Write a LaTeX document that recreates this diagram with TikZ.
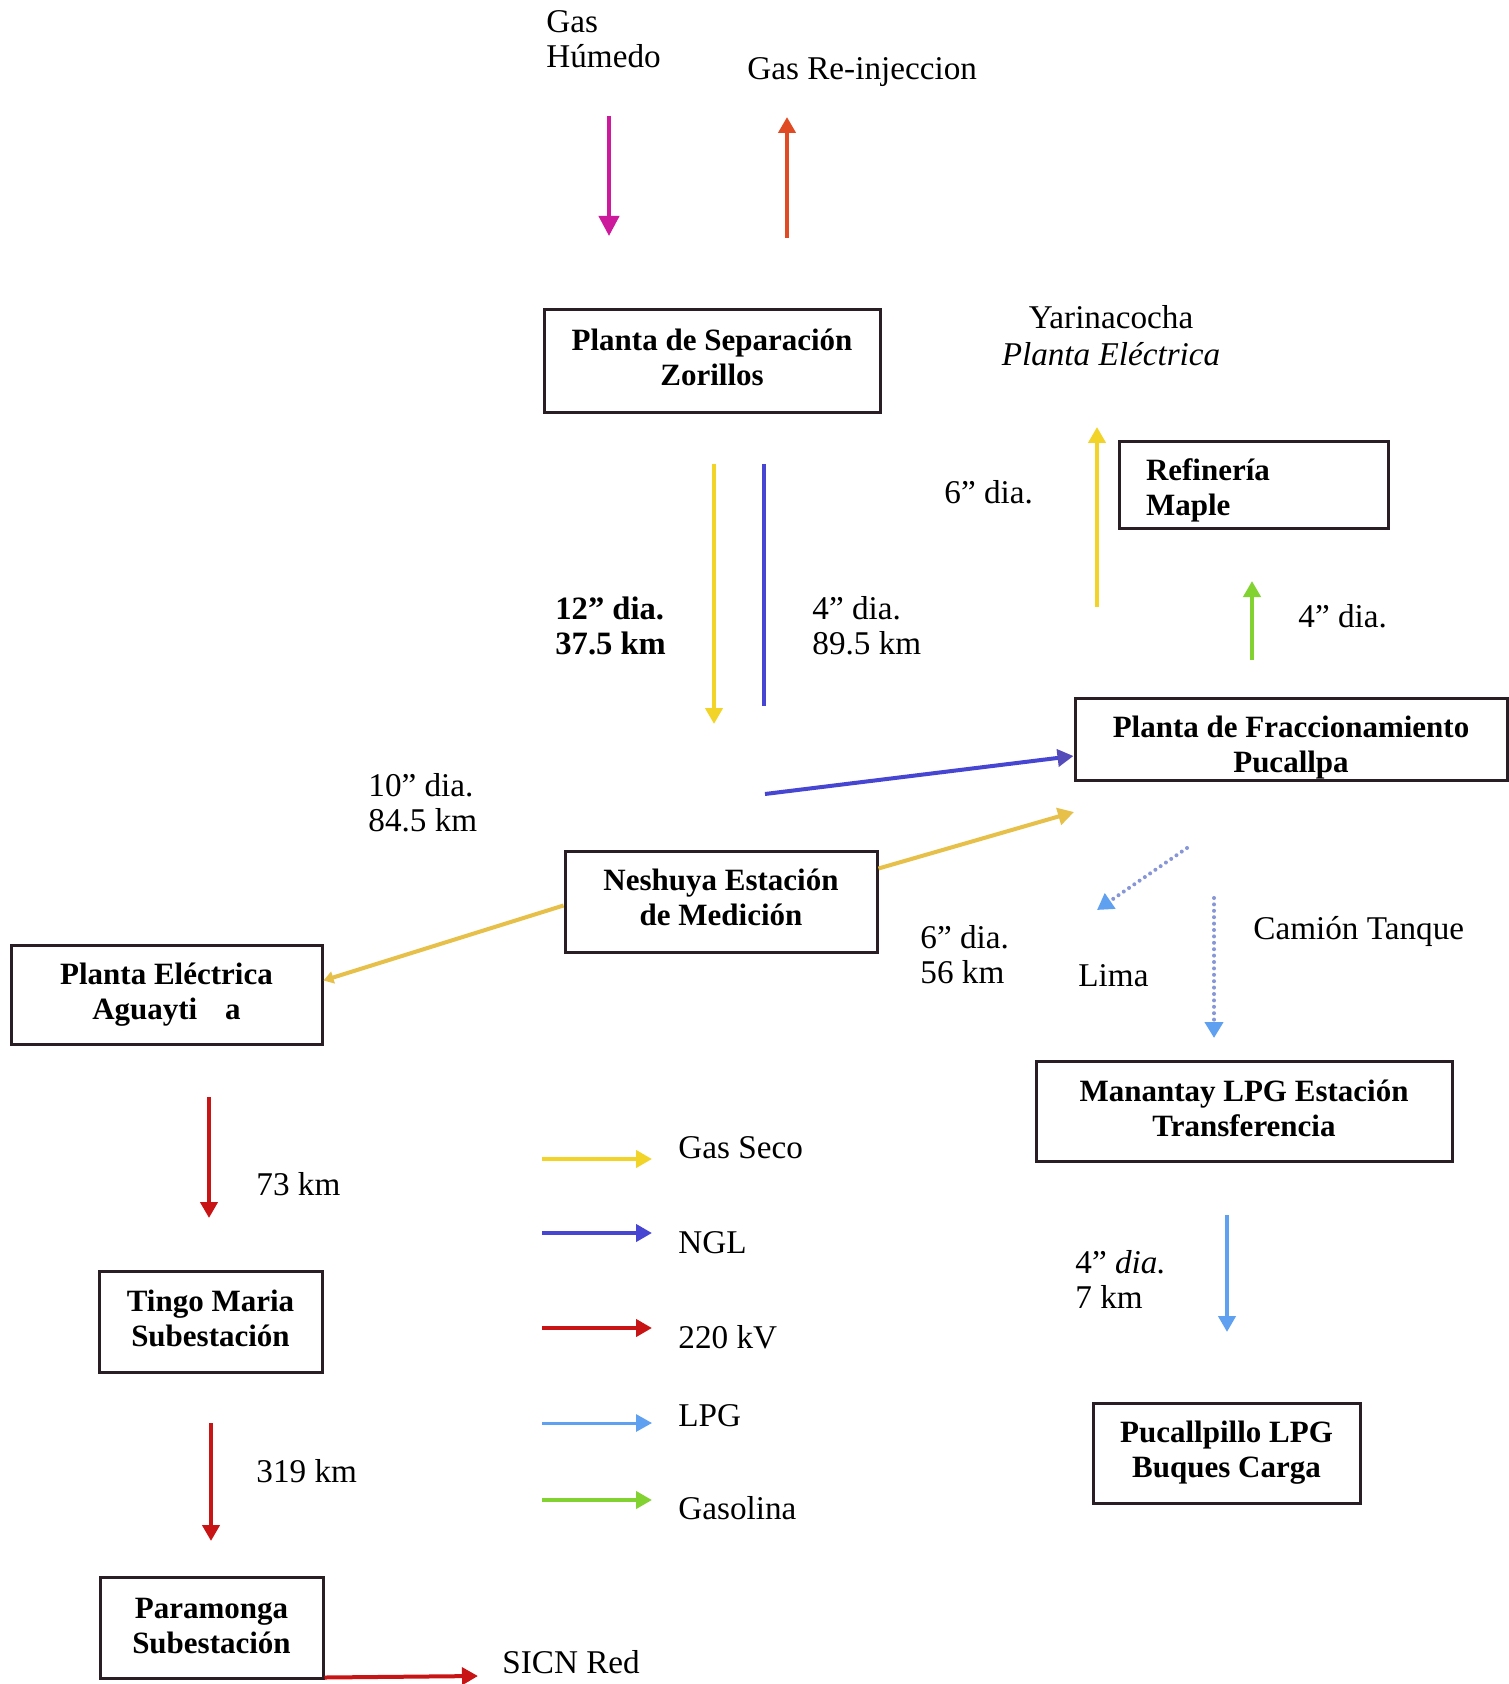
\documentclass[tikz,border=0pt]{standalone}
\usepackage{fontspec}
\setmainfont{Liberation Serif}
\usetikzlibrary{arrows.meta,calc}
\definecolor{cMag}{RGB}{205,25,155}
\definecolor{cOra}{RGB}{225,75,35}
\definecolor{cYel}{RGB}{242,212,40}
\definecolor{cOch}{RGB}{230,192,72}
\definecolor{cNgl}{RGB}{70,70,210}
\definecolor{cNglD}{RGB}{85,75,185}
\definecolor{cRed}{RGB}{200,20,20}
\definecolor{cLpg}{RGB}{95,160,240}
\definecolor{cGrn}{RGB}{130,210,50}
\definecolor{cDot}{RGB}{135,150,215}
\definecolor{cBox}{RGB}{40,30,35}
% vertical fine-tuning of box text
\newcommand{\txtup}[1]{\rule[-#1]{0pt}{0pt}}
\newcommand{\txtdown}[1]{\rule{0pt}{#1}}
\begin{document}
\begin{tikzpicture}[x=0.5pt,y=-0.5pt,
  box/.style={draw=cBox, line width=1.5pt, fill=white, align=center,
    font=\fontsize{15.5}{17.5}\selectfont\bfseries, inner sep=0pt},
  lbl/.style={font=\fontsize{16.6}{17.75}\selectfont, inner sep=0pt, anchor=base west},
  lblm/.style={font=\fontsize{16.6}{17.75}\selectfont, inner sep=0pt, align=left, anchor=north west},
  flow/.style={line width=2pt, -{Triangle[length=8pt,width=8.5pt]}},
  pipe/.style={line width=2pt},
  dotline/.style={line width=2pt, line cap=round, dash pattern=on 0pt off 3.2pt},
]
\useasboundingbox (0,0) rectangle (1508,1684);
\fill[white] (0,0) rectangle (1508,1684);

% ---------- boxes ----------
\node[box, minimum width=168pt, minimum height=51.5pt] (zor) at (712,361.5)
  {Planta de Separación\\Zorillos\txtup{4.3pt}};
\node[box, minimum width=134.5pt, minimum height=43pt, text width=107.5pt, align=left, inner xsep=13.5pt] (ref) at (1253.5,485)
  {\txtdown{16pt}Refinería\\Maple};
\node[box, minimum width=216pt, minimum height=41pt] (frac) at (1291,739)
  {\txtdown{19.5pt}Planta de Fraccionamiento\\Pucallpa};
\node[box, minimum width=156pt, minimum height=50.5pt] (nesh) at (721,901.5)
  {Neshuya Estación\\de Medición\txtup{4.3pt}};
\node[box, minimum width=155.5pt, minimum height=49.5pt] (agu) at (166.5,994.5)
  {Planta Eléctrica\\Aguayti\hspace{0.9em}a};
\node[box, minimum width=208pt, minimum height=50pt] (man) at (1244,1111)
  {Manantay LPG Estación\\Transferencia\txtup{3.2pt}};
\node[box, minimum width=133.5pt, minimum height=50pt] (puc) at (1226.5,1453)
  {Pucallpillo LPG\\Buques Carga};
\node[box, minimum width=111.5pt, minimum height=50.5pt] (tingo) at (210.5,1321.5)
  {Tingo Maria\\Subestación\txtup{3.2pt}};
\node[box, minimum width=111.5pt, minimum height=50.5pt] (para) at (211.5,1627.5)
  {Paramonga\\Subestación\txtup{2pt}};

% ---------- labels ----------
\node[lblm] (tHum) at (546,10) {Gas\\Húmedo};
\node[lbl] (tRe) at (747,80) {Gas Re-injeccion};
\node[font=\fontsize{16.6}{17.75}\selectfont, inner sep=0pt, anchor=base] (tYar) at (1111,329) {Yarinacocha};
\node[font=\fontsize{16.6}{17.75}\selectfont\itshape, inner sep=0pt, anchor=base] (tYpe) at (1111,366) {Planta Eléctrica};
\node[lbl] (t6a) at (944,503) {6” dia.};
\node[lblm, font=\fontsize{16.3}{17.75}\selectfont\bfseries] (t12) at (555,596) {12” dia.\\37.5 km};
\node[lblm] (t4a) at (812,596) {4” dia.\\89.5 km};
\node[lbl] (t4g) at (1298,627) {4” dia.};
\node[lblm] (t10) at (368,773) {10” dia.\\84.5 km};
\node[lblm] (t6b) at (920,925) {6” dia.\\56 km};
\node[lbl] (tCam) at (1253,939) {Camión Tanque};
\node[lbl] (tLima) at (1078,986) {Lima};
\node[lblm] (t4l) at (1075,1250) {4” \textit{dia.}\\7 km};
\node[lbl] (t73) at (256,1195) {73 km};
\node[lbl] (t319) at (256,1482) {319 km};
\node[lbl] (tSicn) at (502,1673) {SICN Red};

% legend labels
\node[lbl] (lg1) at (678,1158) {Gas Seco};
\node[lbl] (lg2) at (678,1253) {NGL};
\node[lbl] (lg3) at (678,1348) {220 kV};
\node[lbl] (lg4) at (678,1426) {LPG};
\node[lbl] (lg5) at (678,1519) {Gasolina};

% ---------- free ends ----------
\coordinate (humA) at (609,116);  \coordinate (humB) at (609,236);
\coordinate (reA)  at (787,238);  \coordinate (reB)  at (787,117);
\coordinate (s12A) at (714,464);  \coordinate (s12B) at (714,724);
\coordinate (s4A)  at (764,464);  \coordinate (s4B)  at (764,706);
\coordinate (nglA) at (765,794);
\coordinate (y6B)  at (1074,812);
\coordinate (yarA) at (1097,607); \coordinate (yarB) at (1097,427);
\coordinate (grA)  at (1252,660); \coordinate (grB)  at (1252,581);
\coordinate (limA) at (1187,848); \coordinate (limB) at (1097,910);
\coordinate (camA) at (1214,898); \coordinate (camB) at (1214,1038);
\coordinate (lpA)  at (1227,1215); \coordinate (lpB) at (1227,1332);
\coordinate (r1A)  at (209,1097); \coordinate (r1B)  at (209,1218);
\coordinate (r2A)  at (211,1423); \coordinate (r2B)  at (211,1541);
\coordinate (sicnB) at (478,1676);

% ---------- connectors ----------
\draw[flow, cMag, -{Triangle[length=10pt,width=10pt]}] (humA) -- (humB);
\draw[flow, cOra] (reA) -- (reB);
\draw[flow, cYel] (s12A) -- (s12B);
\draw[pipe, cNgl] (s4A) -- (s4B);
\draw[flow, cNgl, -{Triangle[length=8pt,width=8.5pt,color=cNglD,fill=cNglD]}] (nglA) -- ([yshift=-8.5pt]frac.west);
\draw[flow, cOch] ([yshift=16.5pt]nesh.east) -- (y6B);
\draw[flow, cOch, -{Triangle[length=5pt,width=6pt]}] ([yshift=-2pt]nesh.west) -- ([yshift=7pt]agu.east);
\draw[flow, cYel] (yarA) -- (yarB);
\draw[flow, cGrn] (grA) -- (grB);
\draw[dotline, cDot, -{Triangle[length=8pt,width=9pt,color=cLpg,fill=cLpg]}] (limA) -- (limB);
\draw[dotline, cDot, -{Triangle[length=8pt,width=9pt,color=cLpg,fill=cLpg]}] (camA) -- (camB);
\draw[flow, cLpg] (lpA) -- (lpB);
\draw[flow, cRed] (r1A) -- (r1B);
\draw[flow, cRed] (r2A) -- (r2B);
\draw[flow, cRed] ([yshift=1pt]para.south east) -- (sicnB);

% legend arrows
\coordinate (la1) at (542,1159); \coordinate (lb1) at (652,1159);
\coordinate (la2) at (542,1233); \coordinate (lb2) at (652,1233);
\coordinate (la3) at (542,1328); \coordinate (lb3) at (652,1328);
\coordinate (la4) at (542,1423); \coordinate (lb4) at (652,1423);
\coordinate (la5) at (542,1500); \coordinate (lb5) at (652,1500);
\draw[flow, cYel] (la1) -- (lb1);
\draw[flow, cNgl] (la2) -- (lb2);
\draw[flow, cRed] (la3) -- (lb3);
\draw[flow, cLpg, line width=1.5pt] (la4) -- (lb4);
\draw[flow, cGrn] (la5) -- (lb5);
\end{tikzpicture}
\end{document}
